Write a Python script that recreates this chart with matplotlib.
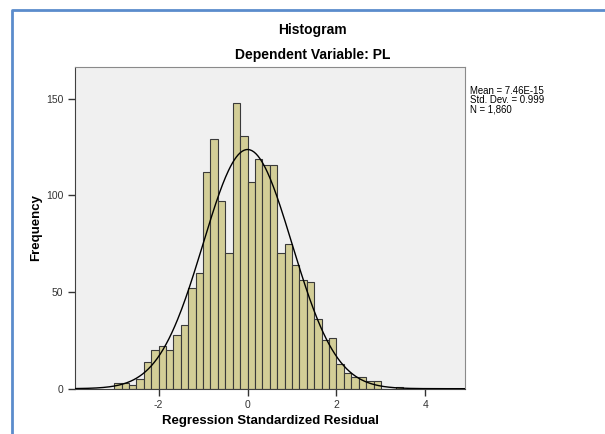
import matplotlib.pyplot as plt
from matplotlib.lines import Line2D
import numpy as np

# Histogram counts (bins of width 1/6 starting at -3)
counts = [3, 3, 2, 5, 14, 20, 22, 20, 28, 33, 52, 60, 112, 129, 97, 70,
          148, 131, 107, 119, 116, 116, 70, 75, 64, 56, 55, 36, 25, 26,
          13, 8, 6, 6, 4, 4, 0, 0, 1]
bin_start = -3.0
bin_width = 1 / 6

mean = 7.46e-15
std = 0.999
n = 1860

x_ticks = [-2, 0, 2, 4]
y_ticks = [0, 50, 100, 150]

plt.rcParams['font.family'] = ['Liberation Sans', 'DejaVu Sans']
plt.rcParams['axes.unicode_minus'] = False

fig = plt.figure(figsize=(6.05, 4.34), dpi=100)
ax = fig.add_axes([0.124, 0.1044, 0.6446, 0.7412])
ax.set_facecolor('#f0f0f0')

lefts = [bin_start + i * bin_width for i in range(len(counts))]
ax.bar(lefts, counts, width=bin_width, align='edge', color='#d3ce97',
       edgecolor='#3a3a3a', linewidth=0.8, zorder=2)

# Normal curve scaled to the histogram
xlim = (-3.88, 4.89)
xs = np.linspace(xlim[0], xlim[1], 400)
ys = n * bin_width / (std * np.sqrt(2 * np.pi)) * np.exp(-0.5 * ((xs - mean) / std) ** 2)
ax.plot(xs, ys, color='black', linewidth=1.0, zorder=3)

ax.set_xlim(*xlim)
ax.set_ylim(0, 166.5)
ax.set_xticks(x_ticks)
ax.set_yticks(y_ticks)
ax.tick_params(labelsize=7.5, colors='#333333', length=5, width=1)
for s in ['top', 'right']:
    ax.spines[s].set_color('#8a8a8a')
for s in ['left', 'bottom']:
    ax.spines[s].set_color('#404040')

ax.set_xlabel('Regression Standardized Residual', fontsize=9.5,
              fontweight='bold', labelpad=3)
ax.set_ylabel('Frequency', fontsize=9.5, fontweight='bold', labelpad=3)

fig.text(0.517, 0.93, 'Histogram', ha='center', va='center',
         fontsize=10, fontweight='bold')
fig.text(0.517, 0.873, 'Dependent Variable: PL', ha='center', va='center',
         fontsize=10, fontweight='bold')

fig.text(0.777, 0.802, 'Mean = 7.46E-15\nStd. Dev. = 0.999\nN = 1,860',
         ha='left', va='top', fontsize=6.9, linespacing=0.9)

# Blue output frame
fig.add_artist(Line2D([12 / 605, 12 / 605, 1.0], [0.0, 1 - 10 / 434, 1 - 10 / 434],
                      transform=fig.transFigure, color='#5b8ccc', linewidth=2))

fig.savefig('out.png', dpi=100)
